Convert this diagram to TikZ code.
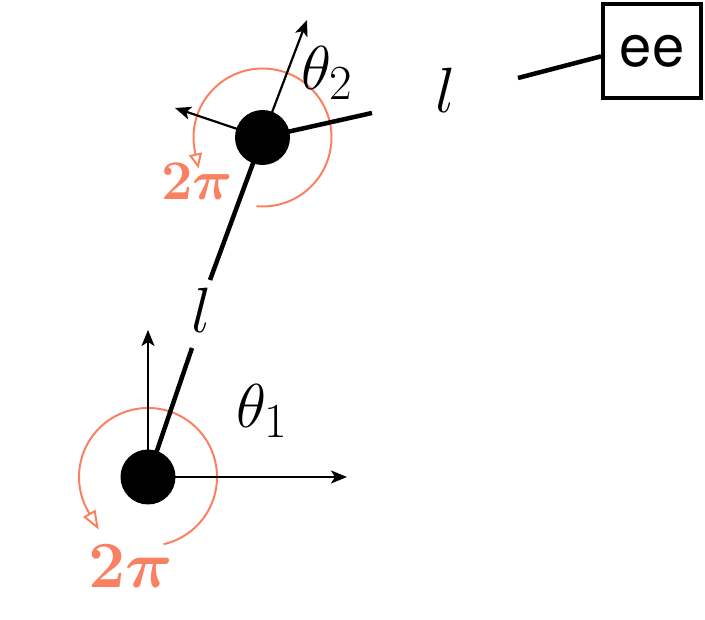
\RequirePackage{fix-cm}
\documentclass[tikz,border=0pt]{standalone}
\usepackage{fontspec}
\newfontfamily\heros{TeX Gyre Heros}
\usetikzlibrary{arrows.meta}
\DeclareMathSizes{62}{62}{49}{35}
\definecolor{arcorange}{RGB}{250,128,98}
\begin{document}
\begin{tikzpicture}[x=1pt,y=1pt,
  link/.style={line width=4.5pt},
  axis/.style={line width=2.2pt,-{Stealth[length=16pt,width=13pt,inset=4pt]}},
  turn/.style={arcorange,line width=2pt},
  joint/.style={circle,fill=black,inner sep=0pt,minimum size=55pt},
  lbl/.style={inner sep=0pt}]
\useasboundingbox (0,0) rectangle (705,620);
% joints and free ends
\coordinate (J1) at (148,143);
\coordinate (J2) at (262.5,482.5);
\coordinate (L1a) at (192,272);
\coordinate (L1b) at (210,340);
\coordinate (L2a) at (372,507);
\coordinate (L2b) at (518,542);
\coordinate (X1) at (347,143);
\coordinate (Y1) at (148,290);
\coordinate (X2) at (307,600);
\coordinate (Y2) at (175,512);
% end effector box
\node[draw,line width=4pt,minimum width=98pt,minimum height=94pt,inner sep=0pt,
      font=\heros\fontsize{58}{60}\selectfont] (ee) at (652,569) {ee};
% orange rotation arcs
\draw[turn,-{Triangle[open,length=19pt,width=14pt]}] (J1) ++(-77:69)
  arc[start angle=-77,end angle=210,radius=69] -- ++(300:21);
\draw[turn,-{Triangle[open,length=15pt,width=13pt]}] (J2) ++(-95:69)
  arc[start angle=-95,end angle=192,radius=69] -- ++(282:17);
% axes
\draw[axis] (J1) -- (X1);
\draw[axis] (J1) -- (Y1);
\draw[axis] (J2) -- (X2);
\draw[axis] (J2) -- (Y2);
% links
\draw[link] (J1) -- (L1a);
\draw[link] (L1b) -- (J2);
\draw[link] (J2) -- (L2a);
\draw[link] (L2b) -- (ee.186);
% joints
\node[joint] (j1) at (J1) {};
\node[joint] (j2) at (J2) {};
% labels
\node[lbl,font=\fontsize{64}{70}\selectfont] (l1) at (202,310) {$l$};
\node[lbl,font=\fontsize{64}{70}\selectfont] (l2) at (446,530) {$l$};
\node[lbl,font=\fontsize{62}{70}\selectfont] (t1) at (262,209) {$\theta_1$};
\node[lbl,font=\fontsize{62}{70}\selectfont] (t2) at (327,547) {$\theta_2$};
\node[lbl,text=arcorange,font=\fontsize{66}{70}\selectfont\boldmath] (p1) at (131,54) {$2\pi$};
\node[lbl,text=arcorange,font=\fontsize{56}{60}\selectfont\boldmath] (p2) at (197,439) {$2\pi$};
\end{tikzpicture}
\end{document}
